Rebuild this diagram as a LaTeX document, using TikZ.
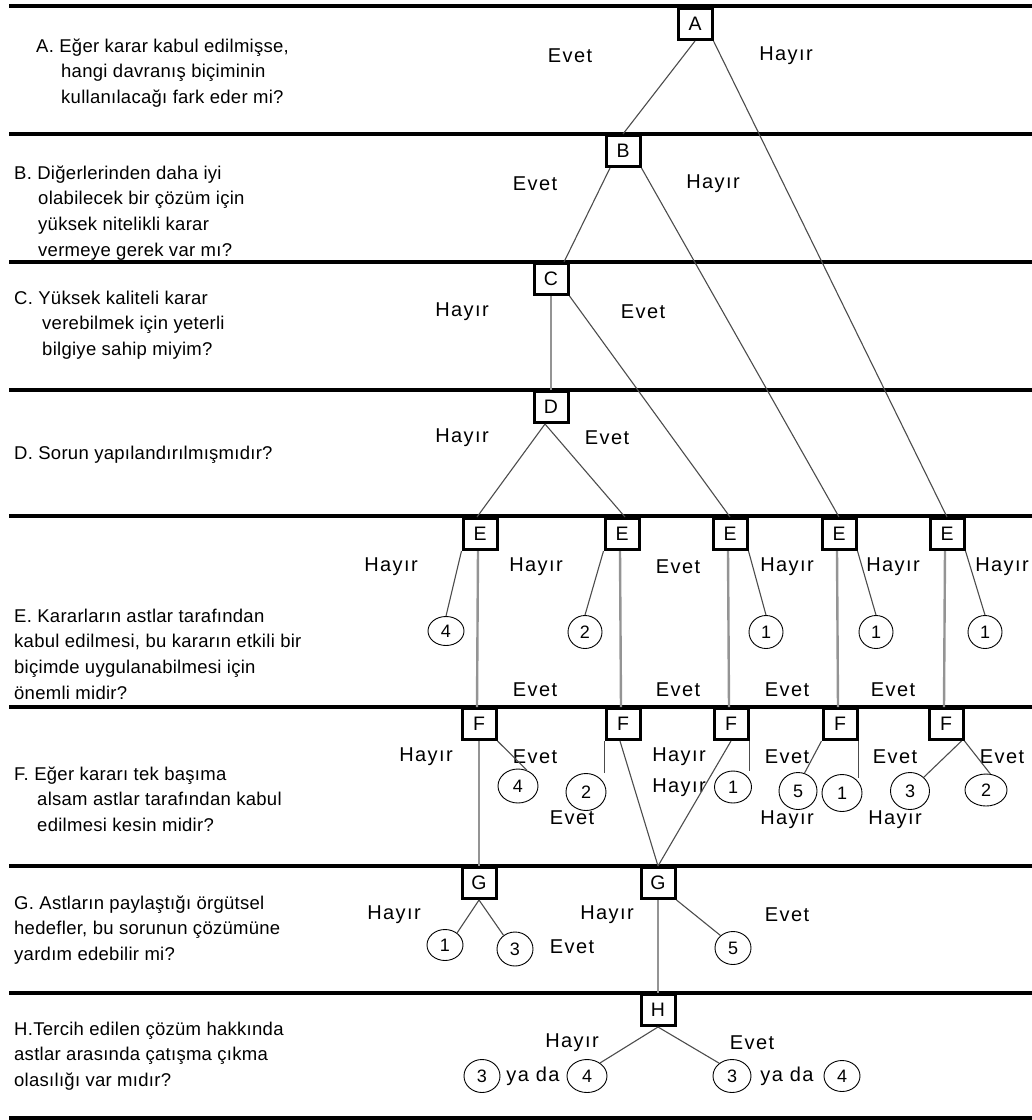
\documentclass[tikz,border=0pt]{standalone}
\usepackage{fontspec}
\setmainfont{Liberation Sans}
\usetikzlibrary{shapes}

\definecolor{trunkgray}{gray}{0.58}
\definecolor{branchgray}{gray}{0.30}

\begin{document}
\begin{tikzpicture}[x=1pt, y=-1pt,
        box/.style = {draw, line width=3pt, minimum width=34pt, minimum height=31pt, inner sep=0pt, font=\fontsize{19.5}{19.5}\selectfont},
        leaf/.style = {draw, ellipse, line width=0.9pt, minimum width=36pt, minimum height=31pt, inner sep=0pt, font=\fontsize{18}{18}\selectfont},
        ans/.style = {inner sep=0pt, font=\fontsize{20}{20}\selectfont\addfontfeature{LetterSpace=7}},
        ques/.style = {anchor=north west, align=left, inner sep=0pt, font=\fontsize{18.5}{25.7}\selectfont\addfontfeature{LetterSpace=1.5}},
        branch/.style = {draw=branchgray, line width=1.1pt},
        trunk/.style = {draw=trunkgray, line width=2.4pt}]
                \useasboundingbox (0,0) rectangle (1032,1120);

                % row lines
                \foreach \y in {6, 134, 262, 390, 516, 707, 866, 993, 1118}
                        \draw[line width=3.2pt] (9,\y) -- (1032,\y);

                % questions
                \node[ques] at (36, 34) (qA) {\strut A. Eğer karar kabul edilmişse,\\\hspace*{25pt}hangi davranış biçiminin\\\hspace*{25pt}kullanılacağı fark eder mi?};
                \node[ques] at (14, 161) (qB) {\strut B. Diğerlerinden daha iyi\\\hspace*{24pt}olabilecek bir çözüm için\\\hspace*{24pt}yüksek nitelikli karar\\\hspace*{24pt}vermeye gerek var mı?};
                \node[ques] at (14, 286) (qC) {\strut C. Yüksek kaliteli karar\\\hspace*{28pt}verebilmek için yeterli\\\hspace*{28pt}bilgiye sahip miyim?};
                \node[ques] at (14, 441) (qD) {\strut D. Sorun yapılandırılmışmıdır?};
                \node[ques] at (14, 604) (qE) {\strut E. Kararların astlar tarafından\\kabul edilmesi, bu kararın etkili bir\\biçimde uygulanabilmesi için\\önemli midir?};
                \node[ques] at (14, 762) (qF) {\strut F. Eğer kararı tek başıma\\\hspace*{23pt}alsam astlar tarafından kabul\\\hspace*{23pt}edilmesi kesin midir?};
                \node[ques] at (14, 891) (qG) {\strut G. Astların paylaştığı örgütsel\\hedefler, bu sorunun çözümüne\\yardım edebilir mi?};
                \node[ques] at (14, 1017) (qH) {\strut H.Tercih edilen çözüm hakkında\\astlar arasında çatışma çıkma\\olasılığı var mıdır?};

                % decision boxes
                \node[box] at (695, 24) (A) {A};
                \node[box] at (623, 151) (B) {B};
                \node[box] at (551, 279) (C) {C};
                \node[box] at (551, 407) (D) {D};
                \node[box] at (480, 534) (E1) {E};
                \node[box] at (622, 534) (E2) {E};
                \node[box] at (730, 534) (E3) {E};
                \node[box] at (839, 534) (E4) {E};
                \node[box] at (947, 534) (E5) {E};
                \node[box] at (479, 724) (F1) {F};
                \node[box] at (623, 724) (F2) {F};
                \node[box] at (731, 724) (F3) {F};
                \node[box] at (840, 724) (F4) {F};
                \node[box] at (946, 724) (F5) {F};
                \node[box] at (479, 883) (G1) {G};
                \node[box] at (658, 883) (G2) {G};
                \node[box] at (658, 1010) (H) {H};

                % outcomes
                \node[leaf, minimum height=29pt] at (446, 631) (lE1) {4};
                \node[leaf, minimum width=34pt, minimum height=33pt] at (585, 632) (lE2) {2};
                \node[leaf, minimum width=34pt, minimum height=33pt] at (766, 632) (lE3) {1};
                \node[leaf, minimum width=34pt, minimum height=33pt] at (876, 632) (lE4) {1};
                \node[leaf, minimum width=34pt, minimum height=33pt] at (985, 632) (lE5) {1};
                \node[leaf, minimum width=40pt, minimum height=34pt] at (518, 786) (lF1) {4};
                \node[leaf, minimum width=40pt, minimum height=37pt] at (586, 792) (lF2) {2};
                \node[leaf, minimum width=37pt, minimum height=32pt] at (733, 787) (lF3) {1};
                \node[leaf, minimum width=38pt, minimum height=37pt] at (798, 791) (lF4a) {5};
                \node[leaf, minimum width=40pt, minimum height=37pt] at (842, 793) (lF4b) {1};
                \node[leaf, minimum width=39pt, minimum height=37pt] at (910, 791) (lF5a) {3};
                \node[leaf, minimum width=42pt, minimum height=32pt] at (986, 790) (lF5b) {2};
                \node[leaf] at (445, 945) (lG1a) {1};
                \node[leaf, minimum height=34pt] at (515, 949) (lG1b) {3};
                \node[leaf, minimum height=33pt] at (733, 948) (lG2) {5};
                \node[leaf, minimum height=33pt] at (482, 1076) (lHa) {3};
                \node[leaf, minimum width=40pt, minimum height=33pt] at (587, 1076) (lHb) {4};
                \node[leaf, minimum width=38pt, minimum height=33pt] at (732, 1076) (lHc) {3};
                \node[leaf, minimum width=36pt, minimum height=31pt] at (842, 1076) (lHd) {4};
                \node[ans] at (533, 1076) (yada1) {ya da};
                \node[ans] at (787, 1076) (yada2) {ya da};

                % branch labels
                \node[ans] at (570, 56) (a1) {Evet};
                \node[ans] at (786, 56) (a2) {Hayır};
                \node[ans] at (535, 184) (b1) {Evet};
                \node[ans] at (713, 184) (b2) {Hayır};
                \node[ans] at (462, 312) (c1) {Hayır};
                \node[ans] at (643, 312) (c2) {Evet};
                \node[ans] at (462, 438) (d1) {Hayır};
                \node[ans] at (607, 438) (d2) {Evet};
                \node[ans] at (391, 567) (e1) {Hayır};
                \node[ans] at (536, 567) (e2) {Hayır};
                \node[ans] at (678, 567) (e3) {Evet};
                \node[ans] at (787, 567) (e4) {Hayır};
                \node[ans] at (893, 567) (e5) {Hayır};
                \node[ans] at (1002, 567) (e6) {Hayır};
                \node[ans] at (535, 690) (e7) {Evet};
                \node[ans] at (678, 690) (e8) {Evet};
                \node[ans] at (787, 690) (e9) {Evet};
                \node[ans] at (893, 690) (e10) {Evet};
                \node[ans] at (426, 757) (f1) {Hayır};
                \node[ans] at (535, 757) (f2) {Evet};
                \node[ans] at (572, 818) (f3) {Evet};
                \node[ans] at (679, 757) (f4) {Hayır};
                \node[ans] at (679, 788) (f5) {Hayır};
                \node[ans] at (787, 757) (f6) {Evet};
                \node[ans] at (787, 820) (f7) {Hayır};
                \node[ans] at (895, 757) (f8) {Evet};
                \node[ans] at (895, 820) (f9) {Hayır};
                \node[ans] at (1002, 757) (f10) {Evet};
                \node[ans] at (394, 915) (g1) {Hayır};
                \node[ans] at (572, 947) (g2) {Evet};
                \node[ans] at (607, 915) (g3) {Hayır};
                \node[ans] at (787, 915) (g4) {Evet};
                \node[ans] at (572, 1043) (h1) {Hayır};
                \node[ans] at (752, 1043) (h2) {Evet};

                % tree
                \draw[branch] (A.south) -- (B.north);
                \draw[branch] (A.south east) -- (E5.north);
                \draw[branch] ([xshift=-13pt]B.south) -- ([xshift=13pt]C.north);
                \draw[branch] (B.south east) -- (E4.north);
                \draw[trunk] (C.south) -- (D.north);
                \draw[branch] (C.south east) -- (E3.north);
                \draw[branch] ([xshift=-6pt]D.south) -- ([xshift=-3pt]E1.north);
                \draw[branch] ([xshift=-6pt]D.south) -- ([xshift=3pt]E2.north);

                \draw[branch] (E1.south west) -- (lE1.north);
                \draw[branch] (E2.south west) -- (lE2.north);
                \draw[branch] (E3.south east) -- (lE3.north);
                \draw[branch] (E4.south east) -- (lE4.north);
                \draw[branch] (E5.south east) -- (lE5.north);
                \foreach \i in {1,...,5}
                        \draw[trunk] ([xshift=-2pt]E\i.south) -- ([xshift=-2pt]F\i.north);

                \draw[trunk] (F1.south) -- (G1.north);
                \draw[branch] (F1.south east) -- (lF1.60);
                \draw[branch] (F2.south west) -- (F2.south west |- lF2.north);
                \draw[branch] ([xshift=-3pt]F2.south) -- (G2.north);
                \draw[branch] (F3.south) -- (G2.north);
                \draw[branch] (F3.south east) -- (F3.south east |- lF3.north);
                \draw[branch] (F4.south west) -- (lF4a.70);
                \draw[branch] (F4.south east) -- ([yshift=-4pt]F4.south east |- lF4b.north);
                \draw[branch] ([xshift=-3pt]F5.south east) -- (lF5a.45);
                \draw[branch] (F5.south east) -- (lF5b.75);

                \draw[branch] (G1.south) -- (lG1a.45);
                \draw[branch] (G1.south) -- (lG1b.130);
                \draw[trunk] (G2.south) -- (H.north);
                \draw[branch] (G2.south east) -- (lG2.135);

                \draw[branch] (H.south) -- (lHb.45);
                \draw[branch] (H.south) -- (lHc.135);
\end{tikzpicture}
\end{document}
